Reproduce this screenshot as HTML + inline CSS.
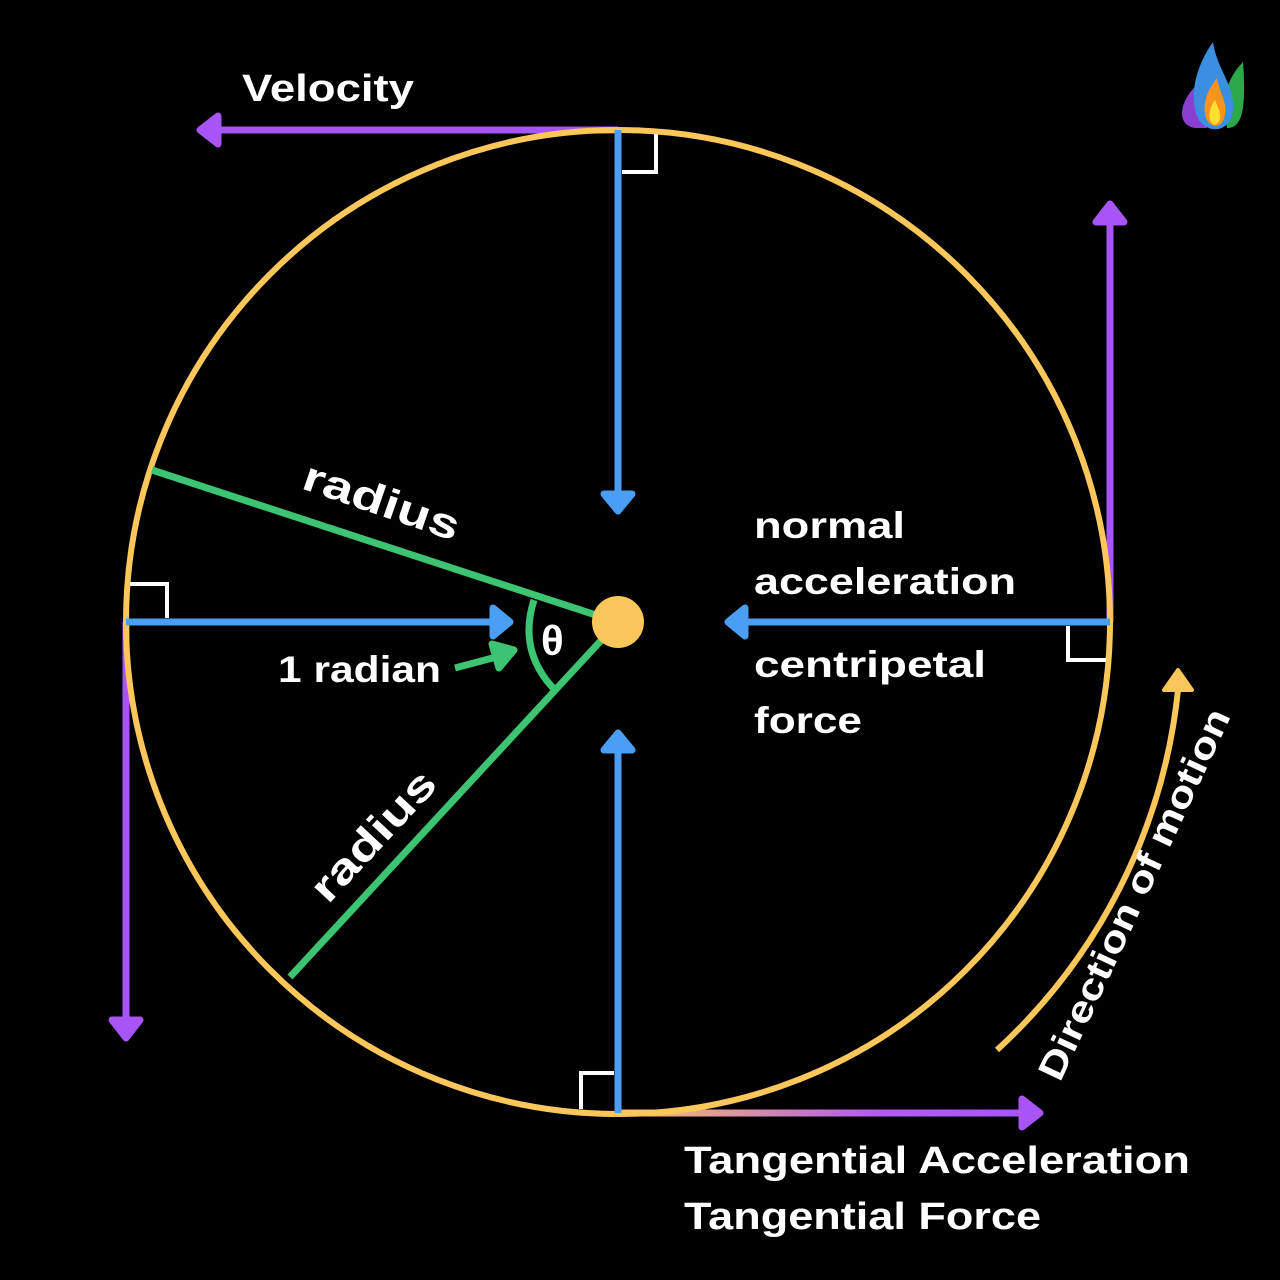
<!DOCTYPE html>
<html><head><style>
html,body{margin:0;padding:0;background:#000;}
svg{display:block;}
text{font-family:"Liberation Sans",sans-serif;font-weight:bold;fill:#fff;}
</style></head><body>
<svg width="1280" height="1280" viewBox="0 0 1280 1280" xmlns="http://www.w3.org/2000/svg">
<defs>
<linearGradient id="g1" x1="618" y1="0" x2="1038" y2="0" gradientUnits="userSpaceOnUse">
<stop offset="0" stop-color="#FCC75A"/><stop offset="0.6" stop-color="#B65BF0"/><stop offset="1" stop-color="#A855F7"/></linearGradient>
</defs>
<rect width="1280" height="1280" fill="#000"/>
<g stroke="#A855F7" stroke-width="7" fill="#A855F7" stroke-linejoin="round">
<line x1="618" y1="130" x2="215" y2="130"/><polygon points="218,116 200,130 218,144"/>
<line x1="1110" y1="622" x2="1110" y2="220"/><polygon points="1096,222 1110,204 1124,222"/>
<line x1="126" y1="622" x2="126" y2="1022"/><polygon points="112,1020 126,1038 140,1020"/>
<polygon points="1022,1099 1040,1113 1022,1127"/>
</g>
<line x1="618" y1="1113" x2="1026" y2="1113" stroke="url(#g1)" stroke-width="7"/>
<circle cx="618" cy="622" r="492" fill="none" stroke="#FCC75A" stroke-width="6"/>
<g stroke="#4A9FF5" stroke-width="7" fill="#4A9FF5" stroke-linejoin="round">
<line x1="618" y1="130" x2="618" y2="495"/><polygon points="604,494 618,511 632,494"/>
<line x1="126" y1="622" x2="495" y2="622"/><polygon points="493,608 510,622 493,636"/>
<line x1="1110" y1="622" x2="744" y2="622"/><polygon points="745,608 728,622 745,636"/>
<line x1="618" y1="1113" x2="618" y2="750"/><polygon points="604,750 618,733 632,750"/>
</g>
<g stroke="#fff" stroke-width="4" fill="none">
<polyline points="622,172 656,172 656,134"/>
<polyline points="130,584 167,584 167,618"/>
<polyline points="1068,626 1068,660 1106,660"/>
<polyline points="581,1109 581,1073 614,1073"/>
</g>
<g stroke="#3CC473" stroke-width="7" fill="none">
<line x1="605" y1="618" x2="152" y2="470"/>
<line x1="608" y1="633" x2="290" y2="977"/>
<path d="M 534 600 Q 518 650 553 688"/>
</g>
<g stroke="#3CC473" stroke-width="7" fill="#3CC473" stroke-linejoin="round">
<line x1="455" y1="668" x2="500" y2="656"/><polygon points="492,644 514,650 499,668"/>
</g>
<circle cx="618" cy="622" r="26" fill="#FCC75A"/>
<path d="M 997 1050 A 568 568 0 0 0 1178 690" stroke="#FCC75A" stroke-width="6" fill="none"/>
<polygon points="1164,690 1178,670 1192,690" fill="#FCC75A" stroke="#FCC75A" stroke-width="4" stroke-linejoin="round"/>
<text x="242" y="101" font-size="38" textLength="172" lengthAdjust="spacingAndGlyphs">Velocity</text>
<text x="754" y="538" font-size="37" textLength="151" lengthAdjust="spacingAndGlyphs">normal</text>
<text x="754" y="594" font-size="37" textLength="262" lengthAdjust="spacingAndGlyphs">acceleration</text>
<text x="754" y="677" font-size="37" textLength="232" lengthAdjust="spacingAndGlyphs">centripetal</text>
<text x="754" y="733" font-size="37" textLength="108" lengthAdjust="spacingAndGlyphs">force</text>
<text x="278" y="682" font-size="37" textLength="163" lengthAdjust="spacingAndGlyphs">1 radian</text>
<text x="541" y="655" font-size="42">θ</text>
<text x="684" y="1173" font-size="38" textLength="506" lengthAdjust="spacingAndGlyphs">Tangential Acceleration</text>
<text x="684" y="1229" font-size="38" textLength="357" lengthAdjust="spacingAndGlyphs">Tangential Force</text>
<text font-size="42" transform="translate(300,488) rotate(19)" textLength="163" lengthAdjust="spacingAndGlyphs">radius</text>
<text font-size="42" transform="translate(328,905) rotate(-47)" textLength="163" lengthAdjust="spacingAndGlyphs">radius</text>
<text font-size="37" transform="translate(1060,1083) rotate(-65)" textLength="405" lengthAdjust="spacingAndGlyphs">Direction of motion</text>
<g transform="translate(1175,40)">
<path d="M22 45 C5 60 0 85 20 88 L32 88 L30 50 Z" fill="#8A3FD1"/>
<path d="M68 22 C55 35 50 50 50 65 L52 88 C65 88 72 75 68 22Z" fill="#2BA84A"/>
<path d="M38 2 C18 30 14 62 24 80 C34 95 56 92 58 70 C60 45 42 30 38 2Z" fill="#3B8FE0"/>
<path d="M42 38 C28 55 26 75 35 84 C45 90 52 80 50 65 C48 55 44 50 42 38Z" fill="#F7941D"/>
<path d="M40 60 C33 70 33 80 38 84 C44 86 47 78 44 70Z" fill="#FFE030"/>
</g>
</svg>
</body></html>
